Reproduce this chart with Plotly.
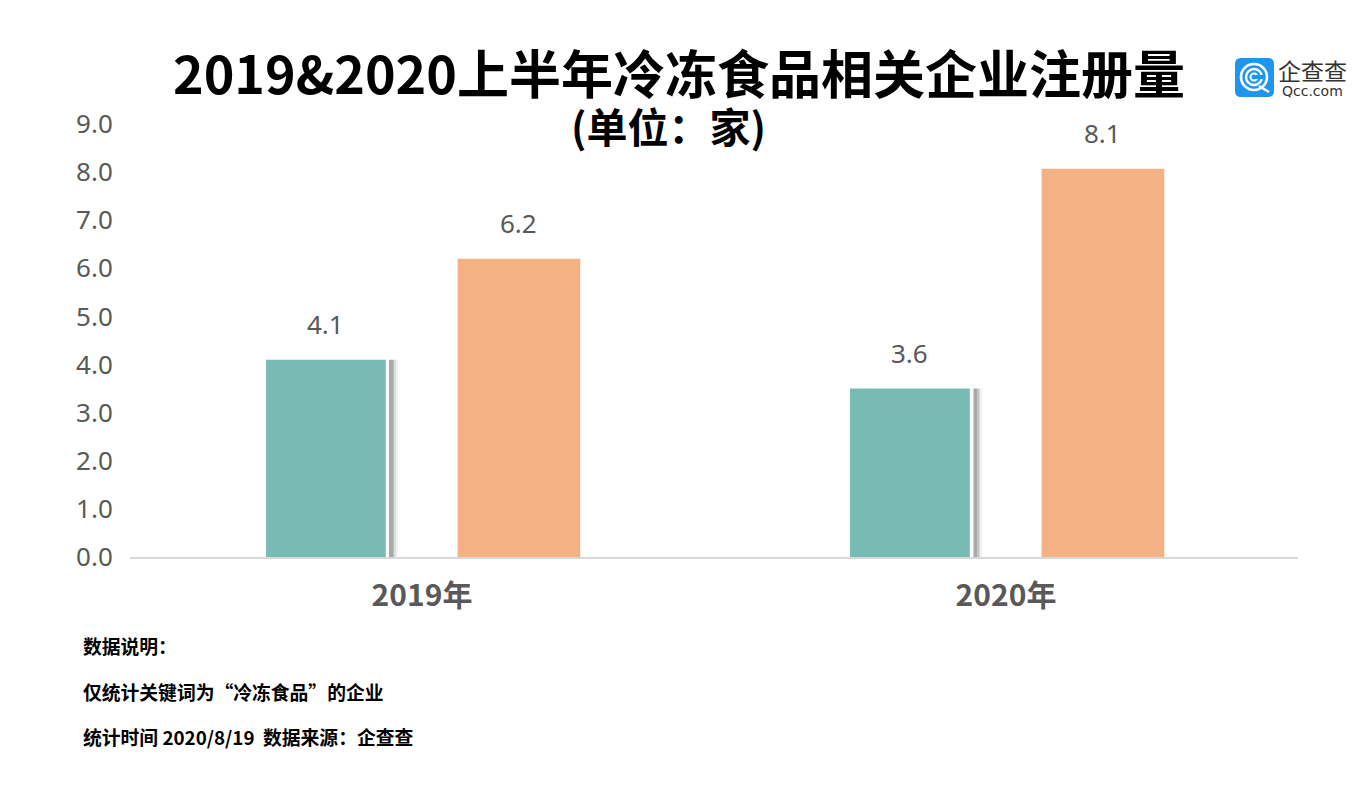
import plotly.graph_objects as go

categories = ["2019年", "2020年"]
teal_values = [4.1, 3.5]
orange_values = [6.2, 8.07]
teal_labels = ["4.1", "3.6"]
orange_labels = ["6.2", "8.1"]
y_ticks = [0, 1, 2, 3, 4, 5, 6, 7, 8, 9]
y_tick_labels = ["0.0", "1.0", "2.0", "3.0", "4.0", "5.0", "6.0", "7.0", "8.0", "9.0"]
title_text = "2019&2020上半年冷冻食品相关企业注册量"
subtitle_text = "(单位：家)"
notes = ["数据说明：", "仅统计关键词为“冷冻食品”的企业", "统计时间 2020/8/19\u00a0\u00a0数据来源：企查查"]

W, H = 1362, 785
L, R, T, B = 130, 64, 124, 228
PW, PH = W - L - R, H - T - B
CJK = "Noto Sans CJK SC"
GREY = "#595959"
TEAL = "#78BBB4"
ORANGE = "#F4B183"


def px(x):
    return (x - L) / PW


def py(y):
    return 1 - (y - T) / PH


def page_text(x, y, text, size, color, family, xanchor="center"):
    return dict(x=px(x), y=py(y), xref="paper", yref="paper", text=text, showarrow=False,
                xanchor=xanchor, yanchor="middle", borderpad=0, borderwidth=0,
                font=dict(size=size, color=color, family=family))


fig = go.Figure()
fig.add_bar(x=[0, 1], y=teal_values, marker=dict(color=TEAL, line=dict(width=0)), width=0.205, offset=-0.267)
fig.add_bar(x=[0, 1], y=orange_values, marker=dict(color=ORANGE, line=dict(width=0)), width=0.21, offset=0.061)

annotations = []
for i, (t, o) in enumerate(zip(teal_values, orange_values)):
    annotations.append(dict(x=i - 0.166, y=t, xref="x", yref="y", text=teal_labels[i], showarrow=False,
                            yshift=36, font=dict(size=26, color=GREY, family="Noto Sans")))
    annotations.append(dict(x=i + 0.165, y=o, xref="x", yref="y", text=orange_labels[i], showarrow=False,
                            yshift=36, font=dict(size=26, color=GREY, family="Noto Sans")))

annotations.append(page_text(678.5, 72, f"<b>{title_text}</b>", 52, "#000000", CJK))
annotations.append(page_text(668, 125, f"<b>{subtitle_text}</b>", 41, "#000000", CJK))
for text, yy in zip(notes, [645, 691, 736]):
    annotations.append(page_text(83, yy, f"<b>{text}</b>", 18.8, "#000000", CJK, xanchor="left"))

annotations.append(page_text(1312, 70, "企查查", 23, "#333333", CJK))
annotations.append(page_text(1312, 91, "Qcc.com", 14, "#333333", "DejaVu Sans"))

shapes = []
# soft shadow right of the teal bars
for i, t in enumerate(teal_values):
    for a, b, col in [(389, 393, "#A8A8A8"), (393, 394.5, "#C0C0C0"), (394.5, 396, "#DCDCDC"), (396, 398, "#F2F2F2")]:
        off = i * 584.5
        shapes.append(dict(type="rect", xref="paper", yref="y", layer="below",
                           x0=px(a + off), x1=px(b + off), y0=0, y1=t,
                           fillcolor=col, line=dict(width=0)))

# logo
r = 6
x0, x1, y0, y1 = 1235, 1274, 58, 97
logo_path = (f"M{px(x0 + r)},{py(y0)} L{px(x1 - r)},{py(y0)} Q{px(x1)},{py(y0)} {px(x1)},{py(y0 + r)} "
             f"L{px(x1)},{py(y1 - r)} Q{px(x1)},{py(y1)} {px(x1 - r)},{py(y1)} L{px(x0 + r)},{py(y1)} "
             f"Q{px(x0)},{py(y1)} {px(x0)},{py(y1 - r)} L{px(x0)},{py(y0 + r)} Q{px(x0)},{py(y0)} {px(x0 + r)},{py(y0)} Z")
shapes.append(dict(type="path", path=logo_path, xref="paper", yref="paper", fillcolor="#1E96F0", line=dict(width=0)))
cx, cy = 1254, 77
for rad, lw in [(13, 2.6), (8, 2.4), (3.5, 2)]:
    shapes.append(dict(type="circle", xref="paper", yref="paper", x0=px(cx - rad), x1=px(cx + rad),
                       y0=py(cy + rad), y1=py(cy - rad), line=dict(color="white", width=lw)))
shapes.append(dict(type="rect", xref="paper", yref="paper", x0=px(cx + 1), x1=px(cx + 10),
                   y0=py(cy + 2), y1=py(cy - 2), fillcolor="#1E96F0", line=dict(width=0)))
shapes.append(dict(type="line", xref="paper", yref="paper", x0=px(cx + 5), x1=px(cx + 15),
                   y0=py(cy + 9), y1=py(cy + 15), line=dict(color="white", width=2.6)))

fig.update_layout(
    width=W, height=H, autosize=False,
    margin=dict(l=L, r=R, t=T, b=B, pad=0),
    paper_bgcolor="white", plot_bgcolor="white",
    showlegend=False, barmode="overlay",
    annotations=annotations, shapes=shapes,
    xaxis=dict(range=[-0.5, 1.5], tickmode="array", tickvals=[0, 1], ticktext=[f"<b>{c}</b>" for c in categories],
               showgrid=False, zeroline=False, showline=True, linecolor="#D9D9D9", linewidth=2,
               ticks="outside", ticklen=11, tickcolor="rgba(0,0,0,0)",
               tickfont=dict(size=30, color=GREY, family=CJK)),
    yaxis=dict(range=[0, 9], tickmode="array", tickvals=y_ticks, ticktext=y_tick_labels,
               showgrid=False, zeroline=False, showline=False,
               ticks="outside", ticklen=11, tickcolor="rgba(0,0,0,0)",
               tickfont=dict(size=26, color=GREY, family="Noto Sans")),
)

fig.write_html("out.html", post_script="document.body.style.margin='0';",
               config={"displayModeBar": False})
